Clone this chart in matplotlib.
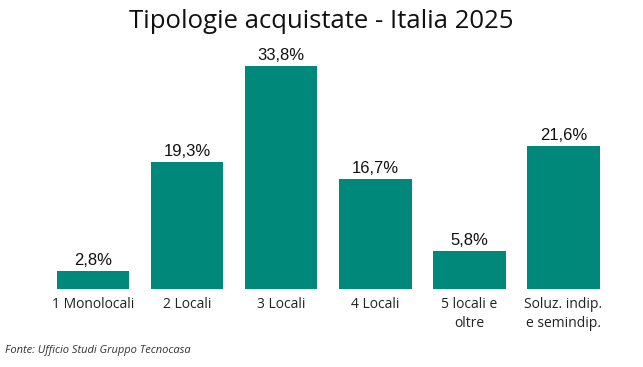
import matplotlib
matplotlib.use("Agg")
import matplotlib.pyplot as plt

categories = ["1 Monolocali", "2 Locali", "3 Locali", "4 Locali", "5 locali e\noltre", "Soluz. indip.\ne semindip."]
values = [2.8, 19.3, 33.8, 16.7, 5.8, 21.6]
value_labels = ["2,8%", "19,3%", "33,8%", "16,7%", "5,8%", "21,6%"]

color = "#00897B"

fig = plt.figure(figsize=(6.43, 3.67), dpi=100)
ax = fig.add_axes([46/643, 1-289/367, (610.5-46)/643, (289-58)/367])

x = range(len(categories))
bars = ax.bar(x, values, width=0.77, color=color)
ax.set_xlim(-0.5, len(categories)-0.5)
ax.set_ylim(0, 35)

for b, lab in zip(bars, value_labels):
    ax.text(b.get_x()+b.get_width()/2, b.get_height()+0.45, lab, ha="center", va="bottom",
            fontsize=12, family="Liberation Sans", color="#111111")

ax.set_xticks(list(x))
ax.set_xticklabels(categories, fontsize=10, family="Open Sans", color="#222222", linespacing=1.3, va="top")
ax.tick_params(axis="x", length=0, pad=6)
ax.set_yticks([])
for s in ax.spines.values():
    s.set_visible(False)

fig.text(0.5, 1-22/367, "Tipologie acquistate - Italia 2025", ha="center", va="center",
         fontsize=18.5, family="Open Sans", color="#111111")
fig.text(5/643, 1-351/367, "Fonte: Ufficio Studi Gruppo Tecnocasa", ha="left", va="center",
         fontsize=8, family="Open Sans", style="italic", color="#333333")

fig.savefig("out.png", dpi=100)
